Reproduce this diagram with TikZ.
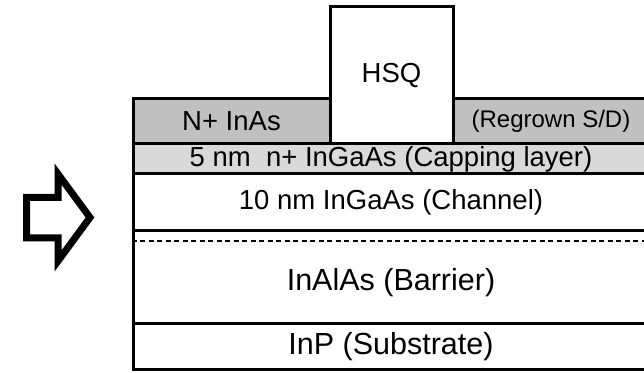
\documentclass[tikz,border=0pt]{standalone}
\usepackage{fontspec}
\setmainfont{Liberation Sans}
\definecolor{sdgray}{RGB}{192,192,192}
\definecolor{capgray}{RGB}{217,217,217}

\begin{document}
\begin{tikzpicture}[x=1pt, y=1pt,
        layer/.style={draw, line width=3pt, rectangle, inner sep=0pt,
            minimum width=516pt, font=\fontsize{27.5}{32}\selectfont},
        bigtext/.style={font=\fontsize{30.5}{36}\selectfont},
        dashline/.style={line width=2.6pt, dash pattern=on 5pt off 3.5pt}]
    \clip (0,0) rectangle (644,372);

    % layer stack
    \node[layer, fill=capgray, minimum height=30pt] (cap) at (391,213) {5 nm\ \ n+ InGaAs (Capping layer)};
    \node[layer, fill=white, minimum height=57pt] (chan) at (391,169.5) {10 nm InGaAs (Channel)};
    \node[layer, fill=white, minimum height=92.5pt] (barrier) at (391,94.75) {};
    \node[layer, fill=white, minimum height=46pt, bigtext] (sub) at (391,25.5) {InP (Substrate)};
    \node[bigtext] (barrierlabel) at (391,89) {InAlAs (Barrier)};
    \draw[dashline] ([yshift=-11.5pt]barrier.north west) -- ([yshift=-11.5pt]barrier.north east);

    % regrown source/drain and gate
    \node[layer, fill=sdgray, minimum width=197pt, minimum height=45.5pt] (sdleft) at (231.5,250.75) {N+ InAs};
    \node[layer, fill=sdgray, minimum width=196pt, minimum height=45.5pt,
        font=\fontsize{24}{28}\selectfont] (sdright) at (551,250.75) {(Regrown S/D)};
    \node[layer, fill=white, minimum width=123pt, minimum height=137.5pt] (hsq) at (391.5,296.75) {HSQ};

    % arrow
    \draw[line width=7pt, miter limit=10] (26.7,174.5) -- (58,174.5) -- (58,198) -- (90,154.5)
        -- (58,111) -- (58,134) -- (26.7,134) -- cycle;
\end{tikzpicture}
\end{document}
